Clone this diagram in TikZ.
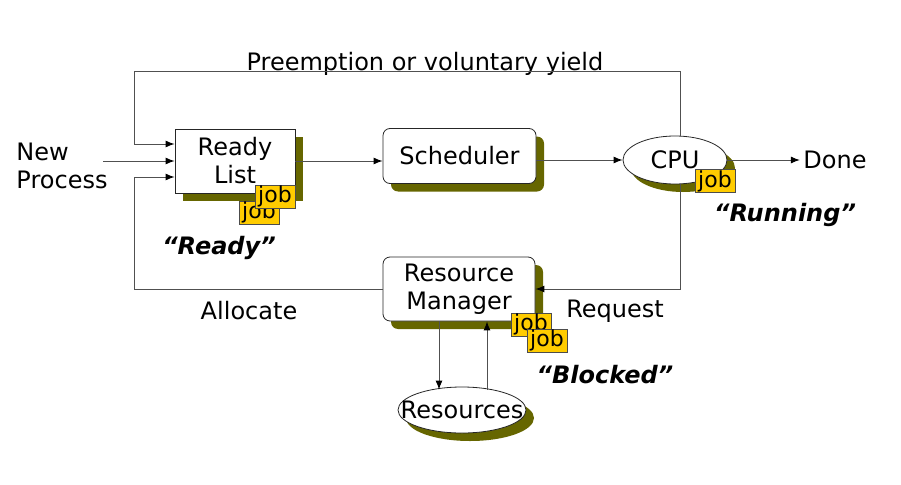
\documentclass[tikz,border=0pt]{standalone}
\usepackage{fontspec}
\setmainfont{DejaVu Sans}
\usetikzlibrary{arrows.meta,shapes.geometric,shadows}
\definecolor{shadowolive}{HTML}{666600}
\definecolor{jobgold}{HTML}{FFCC00}
\definecolor{linegray}{HTML}{505050}

\begin{document}
\begin{tikzpicture}[x=1pt,y=-1pt,
  every node/.style={font=\fontsize{24}{28}\selectfont},
  flow/.style={draw=linegray,line width=1pt},
  arr/.style={flow,-{Latex[length=9pt,width=7pt,color=black]}},
  shadowed/.style={drop shadow={shadow xshift=8pt,shadow yshift=-8pt,fill=shadowolive,opacity=1}},
  stage/.style={draw=black!85,fill=white,line width=0.8pt,shadowed,align=center,inner sep=0pt},
  jobtag/.style={draw=black!70,fill=jobgold,minimum width=40pt,minimum height=23pt,inner sep=0pt,font=\fontsize{22}{22}\selectfont},
  state/.style={font=\fontsize{24}{28}\selectfont\bfseries\itshape}]
\useasboundingbox (0,0) rectangle (901,484);

% stages
\node[stage,minimum width=120pt,minimum height=64pt] (ready) at (235,161) {Ready\\List};
\node[stage,rounded corners=7pt,minimum width=153pt,minimum height=55pt] (sched) at (459.5,156) {Scheduler};
\node[stage,ellipse,minimum width=104pt,minimum height=48pt] (cpu) at (675,160) {CPU};
\node[stage,rounded corners=7pt,minimum width=152pt,minimum height=64pt] (rm) at (459,289) {Resource\\Manager};
\node[stage,ellipse,minimum width=128pt,minimum height=46pt,label={center:Resources}] (res) at (462,410) {};

% jobs
\node[jobtag] (readyjobb) at (259,212.5) {job};
\node[jobtag] (readyjoba) at (275,196.5) {job};
\node[jobtag] (cpujob) at (715,181) {job};
\node[jobtag] (rmjoba) at (531,324.5) {job};
\node[jobtag] (rmjobb) at (547,340.5) {job};

% texts
\node[align=left] (newproc) at (62,166) {New\\Process};
\node (done) at (835,160) {Done};
\node (yieldtext) at (425,64) {Preemption or voluntary yield};
\node (alloctext) at (249,311) {Allocate};
\node (reqtext) at (615,311) {Request};
\node[state] (readystate) at (219,248) {“Ready”};
\node[state] (runstate) at (785,215) {“Running”};
\node[state] (blockstate) at (605,375) {“Blocked”};

% connectors
\coordinate (newin) at (103,161);
\coordinate (yieldL) at (134,72);
\coordinate (yieldR) at (680,72);
\coordinate (allocL) at (134,289);
\coordinate (reqR) at (680,289);
\draw[arr] (newin) -- (ready.west);
\draw[arr] (ready.east) -- (ready.east -| sched.west);
\draw[arr] (sched.east |- cpu) -- (cpu.west);
\draw[arr] (cpu.east) -- (cpu.east -| done.west);
\draw[arr] (cpu.north -| yieldR) -- (yieldR) -- (yieldL) |- ([yshift=17pt]ready.west);
\draw[arr] (cpu.south -| reqR) -- (reqR) -- (rm.east);
\draw[arr] (rm.west) -- (allocL) |- ([yshift=-16pt]ready.west);
\draw[arr] ([xshift=-20pt]rm.south) -- ([xshift=-20pt,yshift=-3pt]rm.south |- res.north);
\draw[arr] ([xshift=28pt,yshift=-3pt]rm.south |- res.north) -- ([xshift=28pt]rm.south);
\end{tikzpicture}
\end{document}
